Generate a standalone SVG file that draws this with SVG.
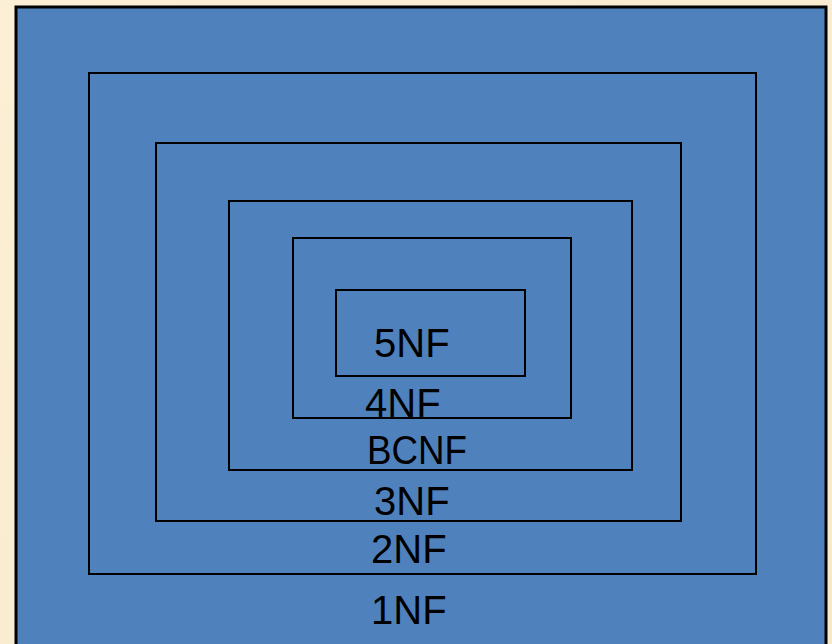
<svg xmlns="http://www.w3.org/2000/svg" width="832" height="644" viewBox="0 0 832 644">
<defs>
<linearGradient id="bg" x1="0" y1="0" x2="1" y2="1">
<stop offset="0" stop-color="#FBEFD5"/>
<stop offset="1" stop-color="#F8E9CB"/>
</linearGradient>
</defs>
<style>
.box{fill:none;stroke:#000;stroke-width:2}
.lbl{font-family:"Liberation Sans",Arial,sans-serif;font-size:40px;fill:#000}
</style>
<rect x="0" y="0" width="832" height="644" fill="url(#bg)"/>
<g id="nf1">
<rect x="16" y="7" width="810" height="650" fill="#4F81BD" stroke="#000" stroke-width="3"/>
<text class="lbl" x="371" y="624">1NF</text>
</g>
<g id="nf2">
<rect class="box" x="89" y="73" width="667" height="501"/>
<text class="lbl" x="371" y="563">2NF</text>
</g>
<g id="nf3">
<rect class="box" x="156" y="143" width="525" height="378"/>
<text class="lbl" x="374" y="515">3NF</text>
</g>
<g id="bcnf">
<rect class="box" x="229" y="201" width="403" height="269"/>
<text class="lbl" x="367" y="464" textLength="100" lengthAdjust="spacingAndGlyphs">BCNF</text>
</g>
<g id="nf4">
<rect class="box" x="293" y="238" width="278" height="180"/>
<text class="lbl" x="365" y="417">4NF</text>
</g>
<g id="nf5">
<rect class="box" x="336" y="290" width="189" height="86"/>
<text class="lbl" x="374" y="357">5NF</text>
</g>
<g id="connectors"/>
</svg>
